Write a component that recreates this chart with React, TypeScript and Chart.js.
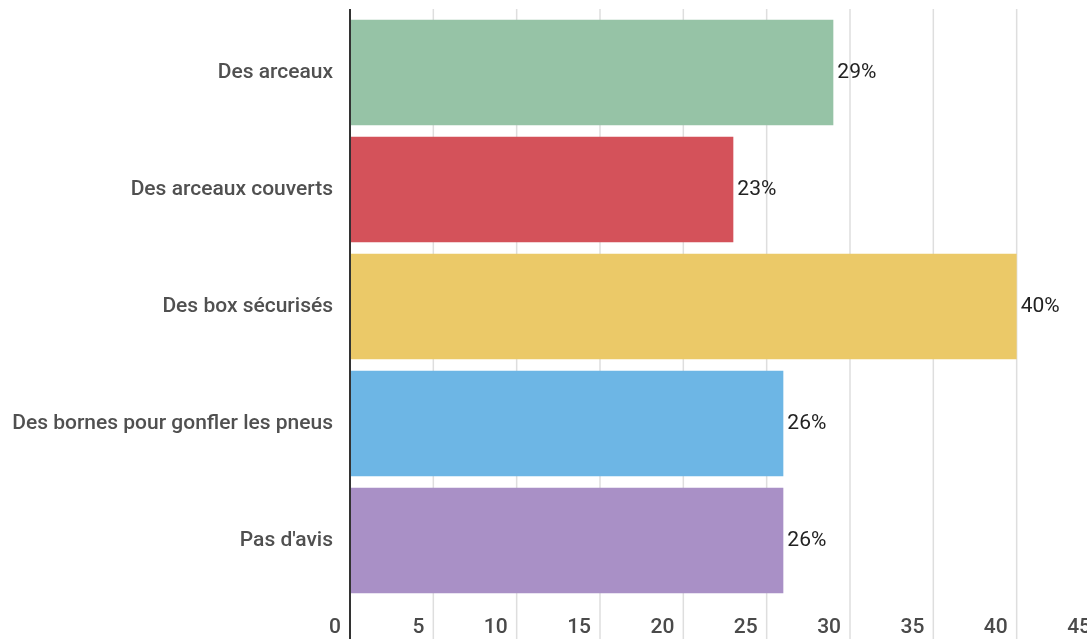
import React, { useEffect, useRef } from "react";
import { Chart, registerables } from "chart.js";

Chart.register(...registerables);

const categories = [
  "Des arceaux",
  "Des arceaux couverts",
  "Des box sécurisés",
  "Des bornes pour gonfler les pneus",
  "Pas d'avis",
];
const values = [29, 23, 40, 26, 26];
const barColors = ["#96c3a6", "#d4525a", "#ebc968", "#6db6e5", "#a990c6"];
const xTicks = [0, 5, 10, 15, 20, 25, 30, 35, 40, 45];

const FONT = "Roboto, 'Noto Sans', sans-serif";
const CANVAS_W = 1116;

export default function App() {
  const ref = useRef<HTMLCanvasElement | null>(null);

  useEffect(() => {
    if (!ref.current) return;
    const overlay = {
      id: "overlay",
      beforeDatasetsDraw(chart: any) {
        const ctx = chart.ctx;
        const xs = chart.scales.x;
        const top = chart.chartArea.top - 5;
        ctx.save();
        ctx.strokeStyle = "#dedede";
        ctx.lineWidth = 1.5;
        xTicks.forEach((t) => {
          if (t === 0) return;
          const px = xs.getPixelForValue(t);
          ctx.beginPath();
          ctx.moveTo(px, top);
          ctx.lineTo(px, chart.height);
          ctx.stroke();
        });
        ctx.restore();
      },
      afterDatasetsDraw(chart: any) {
        const ctx = chart.ctx;
        const xs = chart.scales.x;
        const top = chart.chartArea.top - 5;
        ctx.save();
        const meta = chart.getDatasetMeta(0);
        ctx.fillStyle = "#222222";
        ctx.font = `21px ${FONT}`;
        ctx.textAlign = "left";
        ctx.textBaseline = "middle";
        meta.data.forEach((bar: any, i: number) => {
          ctx.fillText(`${values[i]}%`, bar.x + 4, bar.y);
        });
        const x0 = xs.getPixelForValue(0);
        ctx.strokeStyle = "#333333";
        ctx.lineWidth = 2;
        ctx.beginPath();
        ctx.moveTo(x0, top);
        ctx.lineTo(x0, chart.height);
        ctx.stroke();
        ctx.restore();
      },
    };

    const chart = new Chart(ref.current, {
      type: "bar",
      data: {
        labels: categories,
        datasets: [
          {
            data: values,
            backgroundColor: barColors,
            borderWidth: 0,
            barPercentage: 0.9,
            categoryPercentage: 1,
          },
        ],
      },
      options: {
        indexAxis: "y",
        animation: false,
        responsive: false,
        maintainAspectRatio: false,
        layout: { padding: { top: 14, right: 0, left: 0, bottom: 0 } },
        plugins: { legend: { display: false }, tooltip: { enabled: false } },
        scales: {
          x: {
            min: 0,
            max: 45,
            afterBuildTicks(scale: any) {
              scale.ticks = xTicks.map((v) => ({ value: v }));
            },
            afterFit(scale: any) {
              scale.height = 40;
            },
            grid: { display: false, drawTicks: false },
            border: { display: false },
            ticks: {
              align: "end",
              labelOffset: -9,
              padding: 16,
              maxRotation: 0,
              autoSkip: false,
              color: "#4a4a4a",
              font: { family: FONT, size: 21, weight: "500" },
            },
          },
          y: {
            afterFit(scale: any) {
              scale.width = 350;
              scale.paddingTop = 0;
              scale.paddingBottom = 0;
            },
            grid: { display: false, drawTicks: false },
            border: { display: false },
            ticks: {
              padding: 17,
              color: "#505050",
              font: { family: FONT, size: 21, weight: "500" },
            },
          },
        },
      },
      plugins: [overlay],
    });
    return () => chart.destroy();
  }, []);

  return (
    <div style={{ position: "fixed", left: 0, top: 0, width: CANVAS_W, height: 639, background: "#fff" }}>
      <canvas ref={ref} width={CANVAS_W} height={639} style={{ width: CANVAS_W, height: 639, display: "block" }} />
    </div>
  );
}
